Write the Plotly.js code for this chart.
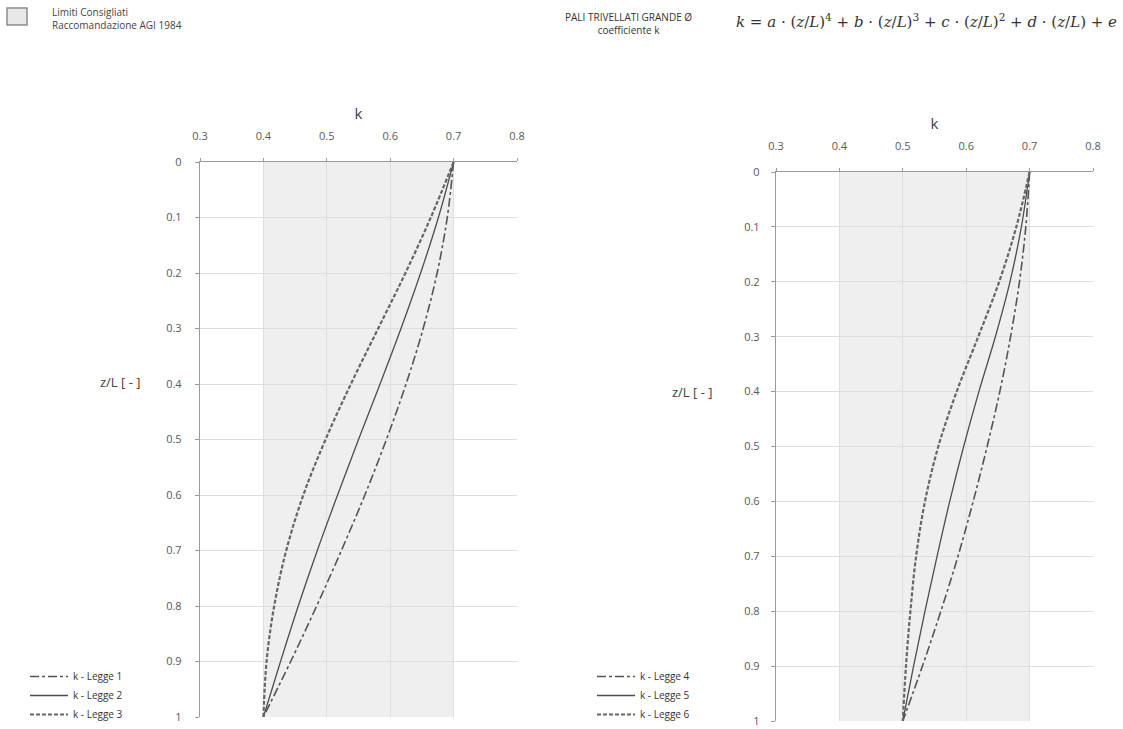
<!DOCTYPE html>
<html>
<head>
<meta charset="utf-8">
<script src="https://cdn.plot.ly/plotly-3.0.1.min.js"></script>
<style>html,body{margin:0;padding:0;background:#fff;}#chart{width:1123px;height:729px;}</style>
</head>
<body>
<div id="chart"></div>
<script>
// Depth ratio z/L
const zL = [0, 0.1, 0.2, 0.3, 0.4, 0.5, 0.6, 0.7, 0.8, 0.9, 1.0];
// Left chart: k coefficient laws 1-3
const kLegge1 = [0.700, 0.690, 0.674, 0.652, 0.625, 0.594, 0.560, 0.523, 0.484, 0.443, 0.400];
const kLegge2 = [0.700, 0.676, 0.648, 0.617, 0.584, 0.550, 0.517, 0.485, 0.455, 0.427, 0.400];
const kLegge3 = [0.700, 0.664, 0.624, 0.581, 0.538, 0.498, 0.463, 0.436, 0.417, 0.405, 0.400];
// Right chart: k coefficient laws 4-6
const kLegge4 = [0.700, 0.694, 0.684, 0.670, 0.653, 0.633, 0.611, 0.587, 0.560, 0.531, 0.500];
const kLegge5 = [0.700, 0.687, 0.669, 0.646, 0.620, 0.596, 0.574, 0.554, 0.535, 0.517, 0.500];
const kLegge6 = [0.700, 0.679, 0.652, 0.619, 0.585, 0.556, 0.535, 0.521, 0.512, 0.505, 0.500];
// Names
const namesLeft = ['k - Legge 1', 'k - Legge 2', 'k - Legge 3'];
const namesRight = ['k - Legge 4', 'k - Legge 5', 'k - Legge 6'];
// Recommended limits (AGI 1984)
const limitK = [0.4, 0.7];
const xTickVals = [0.3, 0.4, 0.5, 0.6, 0.7, 0.8];
const xTickText = ['0.3', '0.4', '0.5', '0.6', '0.7', '0.8'];
const yTickVals = [0, 0.1, 0.2, 0.3, 0.4, 0.5, 0.6, 0.7, 0.8, 0.9, 1];
const yTickText = ['0', '0.1', '0.2', '0.3', '0.4', '0.5', '0.6', '0.7', '0.8', '0.9', '1'];

// page geometry helpers
const W = 1123, H = 729;
const xp = px => px / W;
const yp = py => (H - py) / H;

const styles = [
  {dash: 'dashdot', width: 1.6, color: '#555555'},
  {dash: 'solid', width: 1.3, color: '#4d4d4d'},
  {dash: '4px,2px', width: 2.2, color: '#666666'}
];

const traces = [];
[kLegge1, kLegge2, kLegge3].forEach((k, i) => {
  traces.push({x: k, y: zL, xaxis: 'x', yaxis: 'y', type: 'scatter', mode: 'lines',
    name: namesLeft[i], legend: 'legend', line: Object.assign({shape: 'spline', smoothing: 1}, styles[i])});
});
[kLegge4, kLegge5, kLegge6].forEach((k, i) => {
  traces.push({x: k, y: zL, xaxis: 'x2', yaxis: 'y2', type: 'scatter', mode: 'lines',
    name: namesRight[i], legend: 'legend2', line: Object.assign({shape: 'spline', smoothing: 1}, styles[i])});
});

const tickFont = {family: 'Open Sans, sans-serif', size: 11, color: '#595959'};
function xAx(domain, anchor) {
  return {domain: domain, anchor: anchor, side: 'top', range: [0.3, 0.8], automargin: false,
    tickvals: xTickVals, ticktext: xTickText, tickfont: tickFont,
    showgrid: true, gridcolor: '#dedede', gridwidth: 1, zeroline: false,
    showline: true, linecolor: '#9a9a9a', linewidth: 1.2,
    ticks: 'outside', ticklen: 3, tickcolor: '#9a9a9a', ticklabelstandoff: 13,
    title: {text: 'k', font: {family: 'Open Sans, sans-serif', size: 15, color: '#404040'}, standoff: 5}};
}
function yAx(domain, anchor, standoff) {
  return {domain: domain, anchor: anchor, range: [1, 0], autorange: false, automargin: false,
    tickvals: yTickVals, ticktext: yTickText, tickfont: tickFont, ticklabeloverflow: 'allow',
    showgrid: true, gridcolor: '#dedede', gridwidth: 1, zeroline: false,
    showline: true, linecolor: '#9a9a9a', linewidth: 1.2,
    ticks: 'outside', ticklen: 4, tickcolor: '#9a9a9a', ticklabelstandoff: standoff};
}

const legendFont = {family: 'Open Sans, sans-serif', size: 10, color: '#333333'};
const layout = {
  width: W, height: H,
  margin: {l: 0, r: 0, t: 0, b: 0, pad: 0},
  paper_bgcolor: '#ffffff', plot_bgcolor: '#ffffff',
  xaxis: xAx([xp(200), xp(517)], 'y'),
  yaxis: yAx([yp(717), yp(162)], 'x', 11),
  xaxis2: xAx([xp(776), xp(1093)], 'y2'),
  yaxis2: yAx([yp(721), yp(172)], 'x2', 9),
  showlegend: true,
  legend: {x: xp(25), y: 0, xanchor: 'left', yanchor: 'bottom', bgcolor: 'rgba(0,0,0,0)',
    font: legendFont, tracegroupgap: 0, itemwidth: 38, borderwidth: 0},
  legend2: {x: xp(592), y: 0, xanchor: 'left', yanchor: 'bottom', bgcolor: 'rgba(0,0,0,0)',
    font: legendFont, tracegroupgap: 0, itemwidth: 38, borderwidth: 0},
  shapes: [
    {type: 'rect', xref: 'x', yref: 'y domain', x0: limitK[0], x1: limitK[1], y0: 0, y1: 1,
      fillcolor: '#efefef', line: {width: 0}, layer: 'below'},
    {type: 'rect', xref: 'x2', yref: 'y2 domain', x0: limitK[0], x1: limitK[1], y0: 0, y1: 1,
      fillcolor: '#efefef', line: {width: 0}, layer: 'below'},
    {type: 'rect', xref: 'paper', yref: 'paper', x0: xp(7), x1: xp(27), y0: yp(25), y1: yp(8),
      fillcolor: '#e8e8e8', line: {color: '#8c8c8c', width: 1.5}}
  ],
  annotations: [
    {xref: 'paper', yref: 'paper', x: xp(50), y: yp(19), xanchor: 'left', yanchor: 'middle', align: 'left',
      showarrow: false, text: 'Limiti Consigliati<br>Raccomandazione AGI 1984',
      font: {family: 'Open Sans, sans-serif', size: 10, color: '#444444'}},
    {xref: 'paper', yref: 'paper', x: xp(628), y: yp(24), xanchor: 'center', yanchor: 'middle', align: 'center',
      showarrow: false, text: 'PALI TRIVELLATI GRANDE Ø<br>coefficiente k',
      font: {family: 'Open Sans, sans-serif', size: 10, color: '#333333'}},
    {xref: 'paper', yref: 'paper', x: xp(926), y: yp(21), xanchor: 'center', yanchor: 'middle',
      showarrow: false,
      text: '<i>k</i> = <i>a</i> · (<i>z</i>/<i>L</i>)<sup>4</sup> + <i>b</i> · (<i>z</i>/<i>L</i>)<sup>3</sup> + <i>c</i> · (<i>z</i>/<i>L</i>)<sup>2</sup> + <i>d</i> · (<i>z</i>/<i>L</i>) + <i>e</i>',
      font: {family: 'DejaVu Serif, serif', size: 15, color: '#333333'}},
    {xref: 'paper', yref: 'paper', x: xp(142), y: yp(382), xanchor: 'right', yanchor: 'middle',
      showarrow: false, text: 'z/L [ - ]', font: {family: 'Open Sans, sans-serif', size: 13, color: '#404040'}},
    {xref: 'paper', yref: 'paper', x: xp(714), y: yp(392), xanchor: 'right', yanchor: 'middle',
      showarrow: false, text: 'z/L [ - ]', font: {family: 'Open Sans, sans-serif', size: 13, color: '#404040'}}
  ]
};

Plotly.newPlot('chart', traces, layout, {displayModeBar: false, staticPlot: true});
</script>
</body>
</html>
